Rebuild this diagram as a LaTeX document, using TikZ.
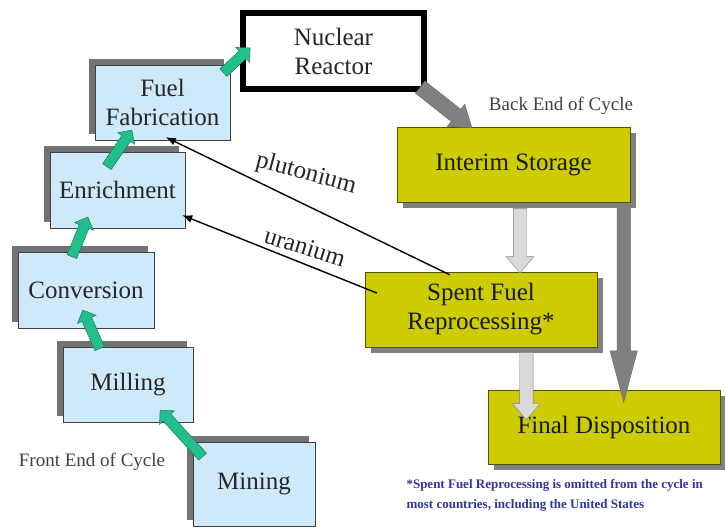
\documentclass[tikz,border=0pt]{standalone}
\usepackage{fontspec}
\setmainfont{Liberation Serif}
\newfontfamily\stagefam{Liberation Serif}
\usetikzlibrary{shapes.arrows,shadows,calc,arrows.meta}
\definecolor{stageblue}{RGB}{205,233,250}
\definecolor{stageyellow}{RGB}{204,204,0}
\definecolor{flowgreen}{RGB}{34,190,140}
\definecolor{noteblue}{RGB}{51,51,160}
\newcommand{\boxfont}{\stagefam\fontsize{25}{29}\selectfont}
\tikzstyle{front} = [draw=black!75,fill=stageblue,rectangle,align=center,inner sep=0,text=black!85,font=\boxfont,drop shadow={shadow xshift=-6pt,shadow yshift=6pt,fill=black!55,opacity=1}]
\tikzstyle{back} = [draw=stageyellow!40!black,fill=stageyellow,rectangle,align=center,inner sep=0,text=black!90,font=\boxfont,drop shadow={shadow xshift=6pt,shadow yshift=-6pt,fill=black!50,opacity=1}]
\tikzstyle{reactor} = [draw,line width=6pt,fill=white,rectangle,align=center,inner sep=0,text=black!85,font=\boxfont]
\tikzstyle{greenflow} = [single arrow,draw=flowgreen!60!black,fill=flowgreen,inner sep=0,inner ysep=5pt,single arrow head extend=5pt,minimum width=20pt,single arrow tip angle=90]
\tikzstyle{darkflow} = [single arrow,draw=black!60,fill=black!50,inner sep=0,inner ysep=6.5pt,single arrow head extend=7pt,minimum width=27pt,single arrow tip angle=30]
\tikzstyle{lightflow} = [single arrow,draw=black!50,fill=black!15,inner sep=0,inner ysep=6.5pt,single arrow head extend=7pt,minimum width=27pt,single arrow tip angle=80]
\tikzstyle{recycle} = [-{Latex[length=10pt,width=8pt]},line width=1.4pt]
\tikzstyle{stream} = [font=\boxfont,text=black!85]
\tikzstyle{phase} = [font=\stagefam\fontsize{19}{22}\selectfont,text=black!75]
\newcommand{\blockarrow}[3]{%
  \path let \p1=($(#3)-(#2)$), \n1={veclen(\x1,\y1)}, \n2={atan2(\y1,\x1)} in
    (#2) node[#1,anchor=tail,rotate=\n2,minimum height=\n1]{};}

\begin{document}
\begin{tikzpicture}[x=1pt,y=-1pt]
  \useasboundingbox (0,0) rectangle (725,528);
  % front end
  \node[front,minimum width=135,minimum height=75] (fab) at (162.5,102.5) {Fuel\\Fabrication};
  \node[front,minimum width=135,minimum height=76] (enrich) at (117.5,190) {Enrichment};
  \node[front,minimum width=136,minimum height=76] (conv) at (86,290) {Conversion};
  \node[front,minimum width=130,minimum height=75] (mill) at (128,384.5) {Milling};
  \node[front,minimum width=122,minimum height=84] (mine) at (254,484) {Mining};
  \node[phase] (frontlbl) at (92,462) {Front End of Cycle};
  % reactor and back end
  \node[reactor,minimum width=181,minimum height=76] (reactor) at (333.5,51) {Nuclear\\Reactor};
  \node[phase] (backlbl) at (561,106) {Back End of Cycle};
  \node[back,minimum width=233,minimum height=75] (interim) at (513.5,164.5) {Interim Storage};
  \node[back,minimum width=232,minimum height=75] (spent) at (481,309.5) {Spent Fuel\\Reprocessing*};
  \node[back,minimum width=232,minimum height=74] (final) at (604,427) {Final Disposition};
  \node[anchor=north west,align=left,text=noteblue,font=\bfseries\fontsize{13}{20}\selectfont] (note) at (403,476)
    {*Spent Fuel Reprocessing is omitted from the cycle in\\most countries, including the United States};
  % green flow
  \blockarrow{greenflow}{$(mine.north west)+(10,15)$}{$(mill.south east)+(-33,-12)$}
  \blockarrow{greenflow}{$(mill.north west)+(37,2)$}{$(conv.south west)+(65,-18)$}
  \blockarrow{greenflow}{$(conv.north west)+(54,5)$}{$(enrich.south west)+(38,-11)$}
  \blockarrow{greenflow}{$(enrich.north west)+(57,15)$}{$(fab.south west)+(37,-10)$}
  \blockarrow{greenflow}{$(fab.north east)+(-7,8)$}{$(reactor.west)+(10,-3)$}
  % spent fuel flow
  \blockarrow{darkflow,inner ysep=7.5pt,single arrow head extend=6.5pt,minimum width=28pt,single arrow tip angle=70}{$(reactor.south east)+(-7,-5)$}{$(interim.north west)+(75,1)$}
  \blockarrow{lightflow}{$(interim.south)+(6.5,6)$}{$(spent.north)+(39,1)$}
  \blockarrow{darkflow}{$(interim.south east)+(-6.5,6)$}{$(final.north east)+(-96.5,12)$}
  \blockarrow{lightflow}{$(spent.south)+(45.5,5)$}{$(final.north west)+(38.5,30)$}
  % recycled material
  \draw[recycle] ($(spent.north west)+(85,3)$) -- ($(fab.south west)+(71,-3)$);
  \draw[recycle] ($(spent.west)+(12,-16.5)$) -- ($(enrich.south east)+(-3,-13)$);
  \node[stream,rotate=-15] (pu) at (306,174) {plutonium};
  \node[stream,rotate=-17] (u) at (305,247) {uranium};
\end{tikzpicture}
\end{document}
